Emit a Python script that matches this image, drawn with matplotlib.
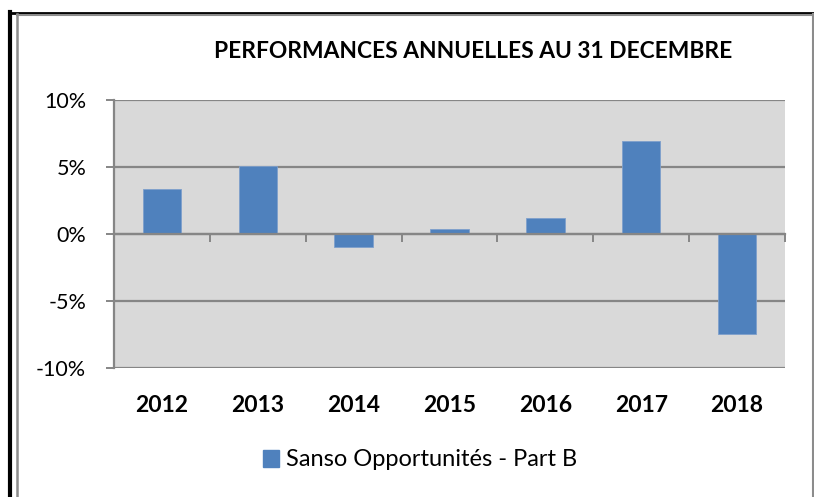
import matplotlib.pyplot as plt
import matplotlib.transforms as mtransforms
from matplotlib.lines import Line2D
from matplotlib.patches import Patch

# ── Data ──────────────────────────────────────────────────────────────────────
years = ["2012", "2013", "2014", "2015", "2016", "2017", "2018"]
perf = [3.31, 5.07, -1.01, 0.35, 1.15, 6.92, -7.48]   # % annual performance
yticks = [-10, -5, 0, 5, 10]

C_BAR = "#4F81BD"
C_GRID = "#868686"
C_BG = "#D9D9D9"

plt.rcParams["font.family"] = ["Lato", "DejaVu Sans"]

W, H = 814, 497
fig = plt.figure(figsize=(W / 100, H / 100), dpi=100)

# frame around the whole chart
fig.add_artist(Line2D([10 / W, 10 / W], [0, 1 - 12 / H], color="black", lw=3))
fig.add_artist(Line2D([10 / W, 1], [1 - 12.5 / H, 1 - 12.5 / H], color="black", lw=2))
fig.add_artist(Line2D([17 / W, 17 / W], [0, 1 - 14 / H], color="#8c8c8c", lw=1.8))
fig.add_artist(Line2D([17 / W, 812.5 / W], [1 - 14.5 / H, 1 - 14.5 / H], color="#8c8c8c", lw=1.5))
fig.add_artist(Line2D([812.5 / W, 812.5 / W], [0, 1 - 14 / H], color="#8c8c8c", lw=1.5))

left, right, top, bottom = 114, 785, 99.5, 368
ax = fig.add_axes([left / W, 1 - bottom / H, (right - left) / W, (bottom - top) / H])
ax.set_facecolor(C_BG)

x = list(range(len(years)))
ax.bar(x, perf, width=0.4, color=C_BAR, edgecolor="#7E9FCC", linewidth=0.6, zorder=3)

ax.set_xlim(-0.5, len(years) - 0.5)
ax.set_ylim(-10, 10)
for y in yticks:
    ax.axhline(y, color=C_GRID, lw=1.6, zorder=2)

for s in ["top", "right"]:
    ax.spines[s].set_visible(False)
ax.spines["left"].set_color(C_GRID)
ax.spines["left"].set_linewidth(1.6)
ax.spines["bottom"].set_position(("data", 0))
ax.spines["bottom"].set_color(C_GRID)
ax.spines["bottom"].set_linewidth(1.6)
ax.spines["bottom"].set_zorder(4)

ax.set_yticks(yticks)
ax.set_yticklabels([f"{v}%" for v in yticks], fontsize=15.5)
ax.tick_params(axis="y", direction="out", length=6, width=1.4, color=C_GRID, pad=14)

ax.set_xticks([i - 0.5 for i in range(len(years) + 1)])
ax.set_xticklabels([])
ax.tick_params(axis="x", direction="out", length=6, width=1.4, color=C_GRID)

trans = mtransforms.blended_transform_factory(ax.transData, fig.transFigure)
for xi, yr in zip(x, years):
    ax.text(xi, 1 - 405 / H, yr, transform=trans, ha="center", va="center",
            fontsize=16.5, fontweight="bold", clip_on=False)

fig.text(473 / W, 1 - 52 / H, "PERFORMANCES ANNUELLES AU 31 DECEMBRE",
         ha="center", va="center", fontsize=16.4, fontweight="bold")

fig.legend(handles=[Patch(color=C_BAR, label="Sanso Opportunités - Part B")],
           loc="center", bbox_to_anchor=(420 / W, 1 - 460 / H), frameon=False,
           fontsize=17, handlelength=0.7, handleheight=0.7, handletextpad=0.3)

fig.savefig("out.png", dpi=100)
